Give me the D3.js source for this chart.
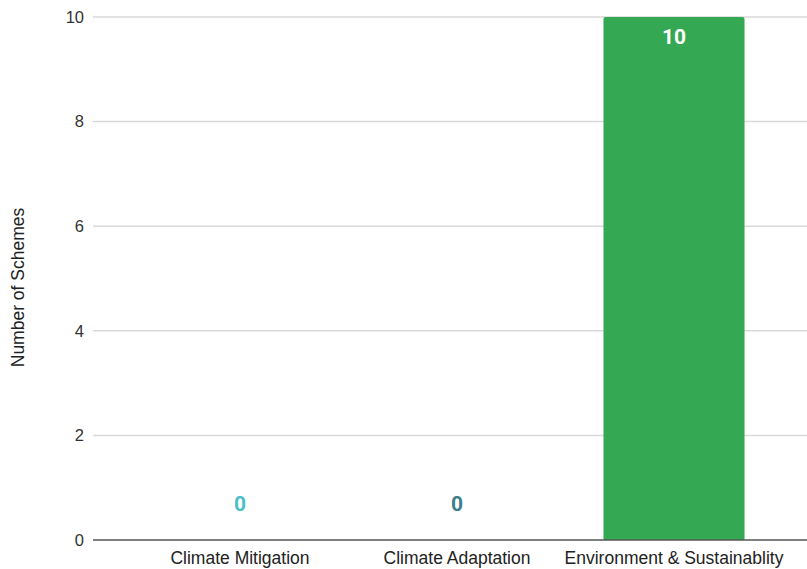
<!DOCTYPE html>
<html><head><meta charset="utf-8">
<script src="https://cdn.jsdelivr.net/npm/d3@7"></script>
<style>body{margin:0;background:#fff}</style>
</head><body>
<svg id="c" width="807" height="569"></svg>
<script>
const categories = ["Climate Mitigation", "Climate Adaptation", "Environment & Sustainablity"];
const values = [0, 0, 10];
const colors = ["#4bbfc9", "#3b7f8e", "#34a853"];
const yTicks = [0, 2, 4, 6, 8, 10];
const yTitle = "Number of Schemes";

const svg = d3.select("#c");
const gridLeft = 93, gridRight = 807;
const x = d3.scaleBand().domain(categories).range([131.5, 782.5]).paddingInner(0.35).paddingOuter(0.175);
const y = d3.scaleLinear().domain([0, 10]).range([540, 17]);

// gridlines
svg.append("g").selectAll("line").data(yTicks.filter(d => d !== 0)).join("line")
  .attr("x1", gridLeft).attr("x2", gridRight)
  .attr("y1", d => y(d)).attr("y2", d => y(d))
  .attr("stroke", "#d9d9d9").attr("stroke-width", 1.5);

// y tick labels
svg.append("g").selectAll("text").data(yTicks).join("text")
  .attr("x", 84).attr("y", d => y(d)).attr("dy", "0.35em")
  .attr("text-anchor", "end")
  .attr("font-family", "Liberation Sans, Arial, sans-serif").attr("font-size", 16.5)
  .attr("fill", "#333").text(d => d);

// bars
const barH = d => y(0) - y(d);
svg.append("g").selectAll("path").data(values).join("path")
  .attr("d", (d, i) => {
    const x0 = x(categories[i]), w = x.bandwidth(), h = barH(d), r = Math.min(2, h);
    const top = y(d);
    if (h <= 0) return "";
    return `M${x0},${y(0)}V${top + r}Q${x0},${top} ${x0 + r},${top}H${x0 + w - r}Q${x0 + w},${top} ${x0 + w},${top + r}V${y(0)}Z`;
  })
  .attr("fill", (d, i) => colors[i]);

// axis line
svg.append("line").attr("x1", gridLeft).attr("x2", gridRight)
  .attr("y1", y(0)).attr("y2", y(0)).attr("stroke", "#555").attr("stroke-width", 1.5);

// value labels
svg.append("g").selectAll("text").data(values).join("text")
  .attr("x", (d, i) => x(categories[i]) + x.bandwidth() / 2)
  .attr("y", d => d > 0 ? y(d) + 20 : y(0) - 36)
  .attr("dy", "0.35em").attr("text-anchor", "middle")
  .attr("font-family", "Roboto, sans-serif").attr("font-weight", "bold").attr("font-size", 21)
  .attr("fill", (d, i) => d > 0 ? "#fff" : colors[i]).text(d => d);

// category labels
svg.append("g").selectAll("text").data(categories).join("text")
  .attr("x", d => x(d) + x.bandwidth() / 2).attr("y", 558).attr("dy", "0.35em")
  .attr("text-anchor", "middle")
  .attr("font-family", "Liberation Sans, Arial, sans-serif").attr("font-size", 17.5)
  .attr("fill", "#222").text(d => d);

// y title
svg.append("text").attr("transform", `translate(24,${y(5) + 9}) rotate(-90)`)
  .attr("text-anchor", "middle")
  .attr("font-family", "Liberation Sans, Arial, sans-serif").attr("font-size", 17.5)
  .attr("fill", "#222").text(yTitle);
</script>
</body></html>
